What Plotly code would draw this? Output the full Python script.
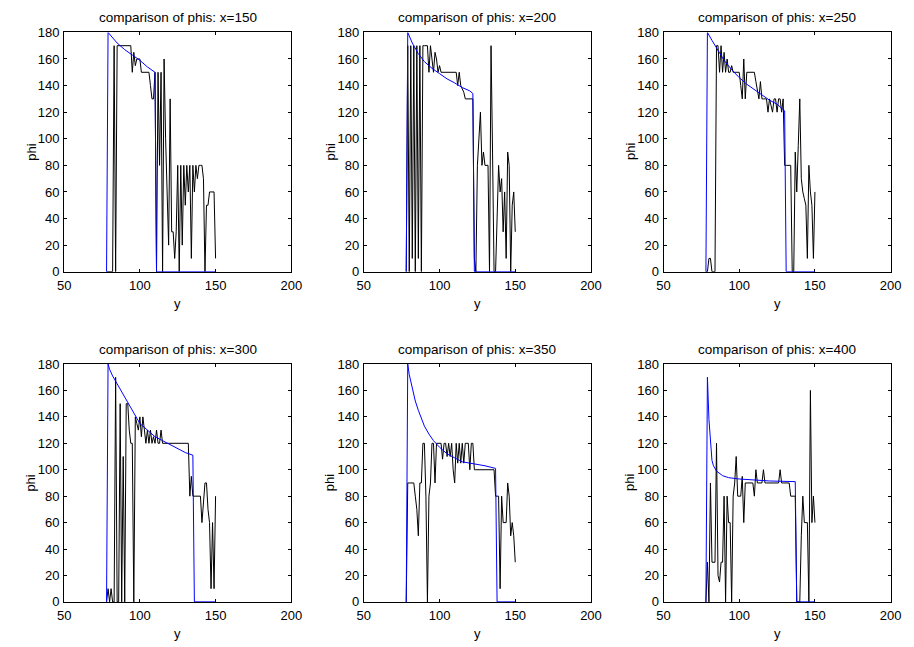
import plotly.graph_objects as go

# sample positions along y (shared by all black series)
positions = list(range(78, 151))

# black series (measured phi), values for y = 78..150
black_150 = [0, 0, 0, 0, 0, 170, 0, 170, 170, 170,
             170, 170, 170, 170, 170, 170, 170, 150, 165, 155,
             160, 160, 160, 150, 150, 150, 150, 150, 150, 140,
             130, 130, 150, 0, 150, 80, 150, 0, 160, 100,
             60, 20, 130, 30, 30, 10, 30, 80, 0, 80,
             20, 80, 50, 80, 60, 80, 10, 80, 60, 80,
             70, 80, 80, 80, 70, 0, 50, 50, 60, 60,
             60, 60, 10]
black_200 = [0, 170, 0, 170, 10, 170, 0, 170, 10, 170,
             0, 170, 170, 170, 170, 150, 170, 160, 150, 165,
             160, 150, 155, 150, 150, 150, 150, 150, 150, 150,
             150, 150, 150, 150, 140, 150, 140, 138, 135, 130,
             130, 130, 130, 130, 130, 10, 0, 80, 100, 120,
             80, 90, 80, 80, 80, 0, 170, 90, 0, 0,
             50, 80, 60, 70, 30, 60, 10, 90, 80, 0,
             50, 60, 30]
black_250 = [0, 0, 10, 10, 0, 0, 0, 170, 170, 150,
             170, 150, 165, 150, 160, 150, 150, 155, 150, 150,
             150, 150, 150, 140, 130, 160, 130, 150, 150, 150,
             150, 150, 150, 143, 135, 130, 143, 130, 130, 130,
             130, 120, 130, 125, 120, 130, 130, 120, 130, 130,
             120, 130, 80, 80, 80, 80, 80, 0, 0, 90,
             60, 95, 130, 70, 60, 55, 50, 10, 80, 60,
             50, 10, 60]
black_300 = [0, 10, 0, 10, 0, 0, 170, 0, 0, 150,
             0, 110, 0, 150, 150, 130, 120, 120, 0, 140,
             135, 130, 140, 125, 140, 130, 120, 130, 120, 130,
             120, 125, 120, 130, 120, 120, 130, 120, 120, 120,
             120, 120, 120, 120, 120, 120, 120, 120, 120, 120,
             120, 120, 120, 120, 120, 80, 95, 80, 80, 80,
             80, 80, 80, 60, 75, 90, 90, 70, 60, 10,
             60, 10, 80]
black_350 = [0, 90, 90, 90, 90, 90, 80, 70, 50, 90,
             90, 120, 120, 80, 0, 80, 90, 120, 120, 90,
             120, 120, 120, 120, 108, 120, 120, 110, 120, 110,
             120, 100, 90, 120, 105, 120, 105, 120, 105, 120,
             120, 120, 100, 120, 120, 100, 100, 100, 100, 100,
             100, 100, 100, 100, 100, 100, 100, 100, 100, 80,
             80, 80, 10, 80, 60, 60, 60, 90, 80, 50,
             60, 50, 30]
black_400 = [0, 30, 0, 90, 30, 30, 30, 120, 20, 15,
             30, 30, 80, 0, 80, 60, 60, 0, 80, 90,
             110, 80, 80, 80, 95, 60, 90, 90, 90, 90,
             90, 90, 80, 100, 90, 90, 90, 90, 100, 90,
             90, 90, 90, 90, 90, 90, 90, 90, 90, 100,
             90, 90, 90, 90, 90, 90, 80, 80, 80, 80,
             0, 0, 0, 50, 80, 60, 60, 60, 0, 160,
             60, 80, 60]

# blue series (model phi), key points
blue_150_y = [78, 79, 85, 90, 95, 100, 105, 110, 111, 150]
blue_150_phi = [0, 180, 172, 167, 163, 159, 154, 150, 0, 0]
blue_200_y = [78, 79, 82, 86, 90, 95, 100, 105, 110, 115, 120, 122, 123, 150]
blue_200_phi = [0, 180, 172, 164, 158, 153, 149, 145, 142, 138.5, 136, 134, 0, 0]
blue_250_y = [78, 79, 82, 86, 90, 95, 100, 105, 110, 115, 120, 125, 130, 131, 150]
blue_250_phi = [0, 180, 174, 166, 159, 152, 146, 141, 137, 133, 129, 126, 121, 0, 0]
blue_300_y = [78, 79, 80, 82, 85, 88, 90, 93, 96, 100, 105, 110, 115, 120, 125, 130, 135, 136, 150]
blue_300_phi = [0, 180, 176, 171, 165, 159, 155, 149, 142, 135, 130, 125, 122, 119, 116, 113, 111, 0, 0]
blue_350_y = [78, 79, 80, 82, 84, 86, 88, 90, 93, 96, 100, 105, 110, 115, 120, 125, 130, 137, 138, 150]
blue_350_phi = [0, 180, 172, 162, 152, 145, 139, 133, 127, 122, 117, 112, 109, 106, 105, 104, 103, 101, 0, 0]
blue_400_y = [78, 79, 80, 81, 82, 83, 85, 89, 93, 100, 110, 120, 137, 138, 150]
blue_400_phi = [0, 170, 138, 118, 107, 103, 99, 95.5, 94, 93, 92, 91.5, 91, 0, 0]

x_labels = ["150", "200", "250", "300", "350", "400"]
blacks = [black_150, black_200, black_250, black_300, black_350, black_400]
blues = [(blue_150_y, blue_150_phi), (blue_200_y, blue_200_phi), (blue_250_y, blue_250_phi),
         (blue_300_y, blue_300_phi), (blue_350_y, blue_350_phi), (blue_400_y, blue_400_phi)]

x_ticks = [50, 100, 150, 200]
y_ticks = [0, 20, 40, 60, 80, 100, 120, 140, 160, 180]

W, H = 914, 647
col_px = [(58.3, 290.0), (364.0, 595.7), (669.7, 901.4)]
row_px = [(26.0, 271.0), (365.5, 609.0)]

FONT = "Arial, Liberation Sans, Helvetica, sans-serif"

fig = go.Figure()
annotations = []
layout_axes = {}

for i in range(6):
    r, c = divmod(i, 3)
    n = i + 1
    xs = "" if n == 1 else str(n)
    x0, x1 = col_px[c][0] / W, col_px[c][1] / W
    y1, y0 = 1 - row_px[r][0] / H, 1 - row_px[r][1] / H

    fig.add_trace(go.Scatter(x=positions, y=blacks[i], mode="lines",
                             line=dict(color="black", width=1),
                             xaxis="x" + xs, yaxis="y" + xs, showlegend=False,
                             hoverinfo="skip"))
    fig.add_trace(go.Scatter(x=blues[i][0], y=blues[i][1], mode="lines",
                             line=dict(color="#0000ff", width=1),
                             xaxis="x" + xs, yaxis="y" + xs, showlegend=False,
                             hoverinfo="skip"))

    common = dict(showline=True, linecolor="black", linewidth=1, mirror="ticks",
                  ticks="inside", ticklen=3, tickcolor="black", tickwidth=1,
                  showgrid=False, zeroline=False, fixedrange=True,
                  tickfont=dict(family=FONT, size=13, color="black"),
                  layer="below traces")
    layout_axes["xaxis" + xs] = dict(common, domain=[x0, x1], range=[50, 200],
                                     tickvals=x_ticks, anchor="y" + xs,
                                     ticklabelstandoff=2)
    layout_axes["yaxis" + xs] = dict(common, domain=[y0, y1], range=[0, 180],
                                     tickvals=y_ticks, anchor="x" + xs,
                                     ticklabelstandoff=1)

    xm = (x0 + x1) / 2
    annotations.append(dict(text="comparison of phis: x=" + x_labels[i], x=xm, y=y1,
                            xref="paper", yref="paper", xanchor="center", yanchor="bottom",
                            yshift=5, showarrow=False,
                            font=dict(family=FONT, size=13.5, color="black")))
    annotations.append(dict(text="y", x=xm, y=y0, xref="paper", yref="paper",
                            xanchor="center", yanchor="top", yshift=-22, showarrow=False,
                            font=dict(family=FONT, size=13, color="black")))
    annotations.append(dict(text="phi", x=x0, y=(y0 + y1) / 2, xref="paper", yref="paper",
                            xanchor="right", yanchor="middle", xshift=-24, textangle=-90,
                            showarrow=False, font=dict(family=FONT, size=13, color="black")))

fig.update_layout(width=W, height=H, margin=dict(l=0, r=0, t=0, b=0),
                  paper_bgcolor="white", plot_bgcolor="white",
                  annotations=annotations, **layout_axes)

fig.write_html("out.html")
